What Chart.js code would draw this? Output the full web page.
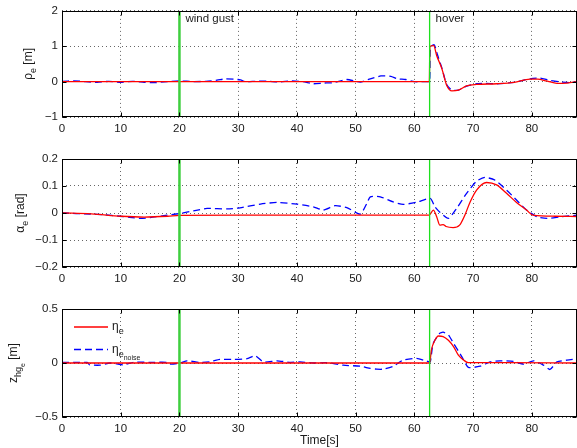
<!DOCTYPE html>
<html>
<head>
<meta charset="utf-8">
<script src="https://cdn.jsdelivr.net/npm/chart.js@4.4.1/dist/chart.umd.min.js"></script>
<style>
  body { margin: 0; background: #fff; width: 577px; height: 448px; overflow: hidden; position: relative; }
  canvas { position: absolute; left: 0; }
</style>
</head>
<body>
<canvas id="rhoChart" width="577" height="140" style="top:0px"></canvas>
<canvas id="alphaChart" width="577" height="150" style="top:140px"></canvas>
<canvas id="zChart" width="577" height="158" style="top:290px"></canvas>
<script>
// ---- data ----
const xTicks = [0, 10, 20, 30, 40, 50, 60, 70, 80];
const xMax = 87.7;
const gustTime = 20;
const hoverTime = 62.6;
const eventLabels = ['wind gust', 'hover'];

const rhoTicks = [-1, 0, 1, 2];
const alphaTicks = [-0.2, -0.1, 0, 0.1, 0.2];
const zTicks = [-0.5, 0, 0.5];

// rho_e
const rhoRedT = [0, 62.55, 62.65, 63.3, 63.8, 64.7, 65.5, 66.4, 67.5, 68.9, 70.6, 74, 77, 79.7, 81, 82.5, 84.3, 86, 87.7];
const rhoRedV = [0, 0, 1.0, 1.02, 0.74, 0.36, -0.10, -0.26, -0.24, -0.12, -0.08, -0.06, -0.02, 0.07, 0.07, 0.02, -0.05, -0.04, 0];
const rhoBlueT = [0, 2, 4, 6, 8, 10, 12, 14, 15.6, 18, 20, 22.4, 24.5, 26.4, 27.9, 30.4, 31.2, 33, 35, 37, 39, 41, 42.8, 44.5, 46.2, 48.5, 50.8, 52.5, 54.3, 56, 57.1, 58.5, 60, 62.1, 62.6, 62.75, 63.4, 63.9, 64.7, 65.5, 66.4, 67.5, 68.9, 70.6, 72, 74, 77, 79.7, 81.4, 83, 84.9, 86.5, 87.7];
const rhoBlueV = [0.01, 0.02, 0, -0.02, 0.01, -0.02, 0.01, -0.02, -0.03, 0, 0.02, 0, 0.01, 0.04, 0.08, 0.05, 0.0, 0.01, 0.01, -0.01, 0.02, 0, -0.06, -0.04, -0.03, 0.06, -0.01, 0.08, 0.16, 0.15, 0.08, 0.06, 0.0, 0.0, 0.0, 0.98, 1.04, 0.78, 0.38, -0.08, -0.24, -0.24, -0.13, -0.06, -0.05, -0.06, -0.02, 0.08, 0.1, 0.04, -0.01, -0.03, 0.0];

// alpha_e
const alphaRedT = [0, 5, 10, 14, 18, 20, 30, 62.5, 63.25, 63.8, 64.35, 64.9, 65.4, 66.6, 67.7, 68.6, 69.5, 70.6, 72.3, 74, 75.7, 77.4, 79.1, 80.2, 84, 87.7];
const alphaRedV = [0, -0.003, -0.012, -0.015, -0.012, -0.009, -0.008, -0.008, 0.011, -0.014, -0.045, -0.043, -0.05, -0.054, -0.045, -0.008, 0.041, 0.085, 0.113, 0.104, 0.073, 0.039, 0.011, -0.008, -0.012, -0.013];
const alphaBlueT = [0, 4.8, 7.1, 9.8, 11.5, 13.3, 15, 17.9, 20.1, 22.4, 24.7, 28.1, 30.3, 33.8, 36.6, 40, 42.8, 44.5, 46.5, 48.5, 50.8, 51.9, 52.5, 54.2, 56.4, 58.1, 60.4, 62.7, 63.5, 64.3, 65.8, 67.2, 68.9, 70.6, 72, 73.7, 75.7, 77.4, 79.1, 80.9, 82.6, 84.9, 87.7];
const alphaBlueV = [0, -0.004, -0.006, -0.012, -0.016, -0.02, -0.017, -0.008, -0.002, 0.008, 0.017, 0.015, 0.019, 0.033, 0.039, 0.033, 0.023, 0.011, 0.027, 0.02, -0.004, 0.035, 0.06, 0.06, 0.041, 0.032, 0.04, 0.054, 0.023, 0.004, -0.02, 0.017, 0.073, 0.118, 0.132, 0.122, 0.085, 0.048, 0.011, -0.014, -0.02, -0.014, -0.008];

// z_hg_e
const zRedT = [0, 62.6, 62.9, 63.5, 64.1, 64.9, 65.8, 66.7, 67.5, 68.4, 69.2, 75, 87.7];
const zRedV = [0, 0, 0.12, 0.21, 0.25, 0.245, 0.21, 0.15, 0.073, 0.027, 0.003, 0.003, 0.0];
const zBlueT = [0, 2, 4.3, 4.7, 6.5, 8.2, 10.5, 12.2, 15, 17.9, 18.5, 20.1, 21.3, 23.5, 25.2, 26.9, 29.2, 31.5, 32.9, 34.3, 36.6, 38.9, 40.5, 42.8, 45.1, 47.9, 50.8, 52.5, 53.6, 54.7, 56.4, 58.1, 60.4, 62.1, 62.7, 63.2, 64.3, 64.9, 65.8, 66.7, 68.1, 69.2, 71.2, 72.9, 74.6, 76.9, 78.6, 80.3, 82, 83.1, 84.3, 86, 87.7];
const zBlueV = [0.005, 0.005, 0.005, -0.017, -0.02, 0, -0.017, 0.007, 0.006, 0.006, -0.01, 0, 0.02, 0.005, 0.012, 0.033, 0.033, 0.04, 0.067, 0.01, 0.02, 0.006, 0.01, 0, 0.003, -0.02, -0.03, -0.05, -0.057, -0.057, -0.03, 0.027, 0.042, 0.017, 0.01, 0.18, 0.274, 0.285, 0.26, 0.18, 0.057, -0.04, -0.03, 0.01, 0.02, 0.015, -0.01, 0.02, -0.02, -0.06, 0.01, 0.027, 0.04];

// ---- styling helpers ----
const FONT = "'Liberation Sans', Arial, sans-serif";
const TEXT = '#1a1a1a';
const RED = '#ff0000';
const BLUE = '#0000ff';

const toPts = (ts, vs) => ts.map((t, i) => ({ x: t, y: vs[i] }));
const fmt = v => String(v).replace('-', '\u2212');

// draws text made of [string, level] parts; level 1 = subscript, 2 = sub-subscript
function drawParts(ctx, parts, x, y, align) {
    const sizes = [12, 9, 7], shifts = [0, 5, 9];
    let total = 0;
    parts.forEach(([s, l]) => { ctx.font = sizes[l] + 'px ' + FONT; total += ctx.measureText(s).width; });
    let cx = align === 'center' ? x - total / 2 : x;
    ctx.textBaseline = 'middle';
    ctx.textAlign = 'left';
    parts.forEach(([s, l]) => {
        ctx.font = sizes[l] + 'px ' + FONT;
        ctx.fillText(s, cx, y + shifts[l]);
        cx += ctx.measureText(s).width;
    });
}

const framePlugin = {
    id: 'frame',
    afterDatasetsDraw(chart) {
        const { ctx, chartArea: a, scales } = chart;
        const L = Math.round(a.left) + 0.5, R = Math.round(a.right) - 0.5;
        const T = Math.round(a.top) + 0.5, B = Math.round(a.bottom) - 0.5;
        ctx.save();
        ctx.strokeStyle = '#000';
        ctx.lineWidth = 1;
        ctx.strokeRect(L, T, R - L, B - T);
        ctx.beginPath();
        scales.x.ticks.forEach(t => {
            const px = Math.round(scales.x.getPixelForValue(t.value)) + 0.5;
            ctx.moveTo(px, B); ctx.lineTo(px, B - 4);
            ctx.moveTo(px, T); ctx.lineTo(px, T + 4);
        });
        scales.y.ticks.forEach(t => {
            const py = Math.round(scales.y.getPixelForValue(t.value)) + 0.5;
            ctx.moveTo(L, py); ctx.lineTo(L + 4, py);
            ctx.moveTo(R, py); ctx.lineTo(R - 4, py);
        });
        ctx.stroke();
        ctx.restore();
    }
};

function yLabelPlugin(parts, x) {
    return {
        id: 'ylabel',
        afterDraw(chart) {
            const { ctx, chartArea: a } = chart;
            ctx.save();
            ctx.translate(x, (a.top + a.bottom) / 2);
            ctx.rotate(-Math.PI / 2);
            ctx.fillStyle = TEXT;
            drawParts(ctx, parts, 0, 0, 'center');
            ctx.restore();
        }
    };
}

const eventTextPlugin = {
    id: 'eventText',
    afterDraw(chart) {
        const { ctx, chartArea: a, scales } = chart;
        ctx.save();
        ctx.fillStyle = TEXT;
        ctx.font = '11.5px ' + FONT;
        ctx.textBaseline = 'middle';
        ctx.fillText(eventLabels[0], scales.x.getPixelForValue(gustTime) + 6, a.top + 8);
        ctx.fillText(eventLabels[1], scales.x.getPixelForValue(hoverTime) + 6, a.top + 8);
        ctx.restore();
    }
};

const legendPlugin = {
    id: 'mLegend',
    afterDraw(chart) {
        const { ctx, chartArea: a } = chart;
        const entries = [
            { ds: chart.data.datasets[2], parts: [['\u03b7', 0], ['e', 1]] },
            { ds: chart.data.datasets[3], parts: [['\u03b7', 0], ['e', 1], ['noise', 2]] }
        ];
        ctx.save();
        entries.forEach((e, i) => {
            const y = a.top + 18 + i * 22.5;
            ctx.strokeStyle = e.ds.borderColor;
            ctx.lineWidth = 1.3;
            ctx.setLineDash(e.ds.borderDash || []);
            ctx.beginPath();
            ctx.moveTo(a.left + 12, y);
            ctx.lineTo(a.left + 46, y);
            ctx.stroke();
            ctx.setLineDash([]);
            ctx.fillStyle = TEXT;
            drawParts(ctx, e.parts, a.left + 50, y, 'left');
        });
        ctx.restore();
    }
};

function makeChart(id, cfg) {
    const [yMin, yMax] = [cfg.yTicks[0], cfg.yTicks[cfg.yTicks.length - 1]];
    const vline = (t, color, w) => ({
        label: 'event', data: [{ x: t, y: yMin }, { x: t, y: yMax }],
        borderColor: color, borderWidth: w, showLine: true, pointRadius: 0, order: 0
    });
    return new Chart(document.getElementById(id), {
        type: 'scatter',
        data: {
            datasets: [
                vline(gustTime, '#3fcf3f', 2.5),
                vline(hoverTime, '#1ee01e', 1.3),
                { label: 'eta_e', data: toPts(cfg.redT, cfg.redV), borderColor: RED, borderWidth: 1.3,
                  showLine: true, pointRadius: 0, cubicInterpolationMode: 'monotone', order: 1 },
                { label: 'eta_e_noise', data: toPts(cfg.blueT, cfg.blueV), borderColor: BLUE, borderWidth: 1.3,
                  borderDash: [7, 4], showLine: true, pointRadius: 0, tension: 0.2, order: 2 }
            ]
        },
        options: {
            responsive: false, animation: false,
            layout: { padding: { top: cfg.padTop, right: 0, left: 0, bottom: 0 } },
            scales: {
                x: {
                    type: 'linear', min: 0, max: xMax,
                    afterBuildTicks: s => { s.ticks = xTicks.map(v => ({ value: v })); },
                    afterFit: s => { s.height = cfg.xHeight; },
                    grid: { color: 'rgba(0,0,0,0.6)', lineWidth: 1, drawTicks: false },
                    border: { display: false, dash: [1, 3] },
                    ticks: { color: TEXT, font: { family: FONT, size: 11.5 }, padding: 5, maxRotation: 0, callback: v => fmt(v) },
                    title: cfg.xTitle ? { display: true, text: cfg.xTitle, color: TEXT, font: { family: FONT, size: 12 }, padding: { top: 0, bottom: 0 } } : { display: false }
                },
                y: {
                    type: 'linear', min: yMin, max: yMax,
                    afterBuildTicks: s => { s.ticks = cfg.yTicks.map(v => ({ value: v })); },
                    afterFit: s => { s.width = 62; },
                    grid: { color: 'rgba(0,0,0,0.6)', lineWidth: 1, drawTicks: false },
                    border: { display: false, dash: [1, 3] },
                    ticks: { color: TEXT, font: { family: FONT, size: 11.5 }, padding: 4, callback: v => fmt(v) }
                }
            },
            plugins: { legend: { display: false }, tooltip: { enabled: false } }
        },
        plugins: [framePlugin, yLabelPlugin(cfg.yLabel, cfg.yLabelX)].concat(cfg.extra || [])
    });
}

makeChart('rhoChart', {
    yTicks: rhoTicks, redT: rhoRedT, redV: rhoRedV, blueT: rhoBlueT, blueV: rhoBlueV,
    padTop: 10, xHeight: 23, yLabel: [['\u03c1', 0], ['e', 1], [' [m]', 0]], yLabelX: 29,
    extra: [eventTextPlugin]
});
makeChart('alphaChart', {
    yTicks: alphaTicks, redT: alphaRedT, redV: alphaRedV, blueT: alphaBlueT, blueV: alphaBlueV,
    padTop: 19, xHeight: 23, yLabel: [['\u03b1', 0], ['e', 1], [' [rad]', 0]], yLabelX: 21
});
makeChart('zChart', {
    yTicks: zTicks, redT: zRedT, redV: zRedV, blueT: zBlueT, blueV: zBlueV,
    padTop: 19, xHeight: 31, xTitle: 'Time[s]', yLabel: [['z', 0], ['hg', 1], ['e', 2], [' [m]', 0]], yLabelX: 14,
    extra: [legendPlugin]
});
</script>
</body>
</html>
